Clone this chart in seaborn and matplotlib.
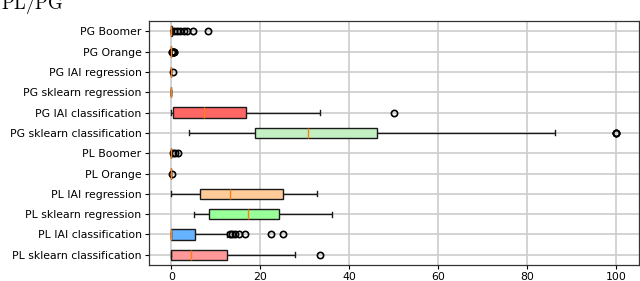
import numpy as np
import pandas as pd
import matplotlib
matplotlib.use("Agg")
import matplotlib.pyplot as plt
import seaborn as sns

# category order, top to bottom
models = [
    "PG Boomer",
    "PG Orange",
    "PG IAI regression",
    "PG sklearn regression",
    "PG IAI classification",
    "PG sklearn classification",
    "PL Boomer",
    "PL Orange",
    "PL IAI regression",
    "PL sklearn regression",
    "PL IAI classification",
    "PL sklearn classification",
]

box_colors = [
    "#c2c2f0",
    "#ffcc99",
    "#99ff99",
    "#66b3ff",
    "#ff6666",
    "#c2f0c2",
    "#ffb3e6",
    "#c2c2f0",
    "#ffcc99",
    "#99ff99",
    "#66b3ff",
    "#ff9999",
]

pg_boomer = [0.0] * 24 + [0.1, 0.2, 0.3, 0.5, 1.3, 2.0, 2.8, 3.5, 4.9, 8.3]
pg_orange = [0.0] * 20 + [0.1, 0.2, 0.3, 0.4, 0.6, 0.7]
pg_iai_regression = [0.0] * 8 + [0.3]
pg_sklearn_regression = [0.0] * 9
pg_iai_classification = [0.0, 0.0, 0.1, 0.3, 2.4, 4.9, 7.3, 10.2, 13.6, 16.7, 22.5, 33.4, 50.0]
pg_sklearn_classification = [4.0, 9.6, 13.8, 16.5, 18.8, 22.0, 25.1, 28.3, 30.8,
                             35.2, 39.4, 43.0, 46.1, 86.3, 100.0, 100.0, 100.0]
pl_boomer = [0.0] * 10 + [0.3, 0.8, 1.4]
pl_orange = [0.0] * 8 + [0.2]
pl_iai_regression = [0.0, 3.1, 6.5, 9.8, 13.2, 19.4, 25.0, 29.1, 32.8]
pl_sklearn_regression = [5.0, 6.9, 8.4, 12.8, 17.3, 20.5, 24.1, 29.6, 36.0]
pl_iai_classification = [0.0] * 17 + [0.5, 1.2, 2.0, 2.9, 3.7, 4.5, 4.9, 5.2, 12.4,
                                      13.2, 13.6, 14.3, 15.2, 16.5, 22.3, 25.0]
pl_sklearn_classification = [0, 0, 0, 0, 1.2, 2.5, 4.3, 6.8, 9.5, 12.6, 18.4, 27.8, 33.4]

series = [
    pg_boomer,
    pg_orange,
    pg_iai_regression,
    pg_sklearn_regression,
    pg_iai_classification,
    pg_sklearn_classification,
    pl_boomer,
    pl_orange,
    pl_iai_regression,
    pl_sklearn_regression,
    pl_iai_classification,
    pl_sklearn_classification,
]

rows = []
for name, vals in zip(models, series):
    for v in vals:
        rows.append({"model": name, "value": v})
df = pd.DataFrame(rows)

fig = plt.figure(figsize=(6.4, 2.81), dpi=100)
ax = fig.add_axes([0.233, 0.057, 0.765, 0.868])

sns.boxplot(
    data=df,
    x="value",
    y="model",
    order=models,
    hue="model",
    hue_order=models,
    palette=box_colors,
    saturation=1,
    width=0.5,
    linewidth=1,
    linecolor="#1a1a1a",
    fliersize=4.5,
    flierprops=dict(marker="o", markerfacecolor="none", markeredgecolor="black", markeredgewidth=1.2),
    medianprops=dict(color="#ff7f0e", linewidth=1),
    legend=False,
    ax=ax
)

ax.set_xlim(-5, 105)
ax.set_ylim(len(models) - 0.5, -0.5)
ax.set_xticks([0, 20, 40, 60, 80, 100])
ax.grid(True, color="#cccccc", linewidth=1.2)
ax.set_axisbelow(True)
ax.set_xlabel("")
ax.set_ylabel("")
ax.tick_params(labelsize=7.8, length=2.7, pad=2.7, width=0.8)
for s in ax.spines.values():
    s.set_color("#333333")
    s.set_linewidth(0.9)

# title sits at the very top, partly cut like the source
fig.text(0.002, 0.968, r"$\mathrm{PL/PG}$", fontsize=13.5, math_fontfamily="cm")

fig.savefig("out.png", dpi=100)
